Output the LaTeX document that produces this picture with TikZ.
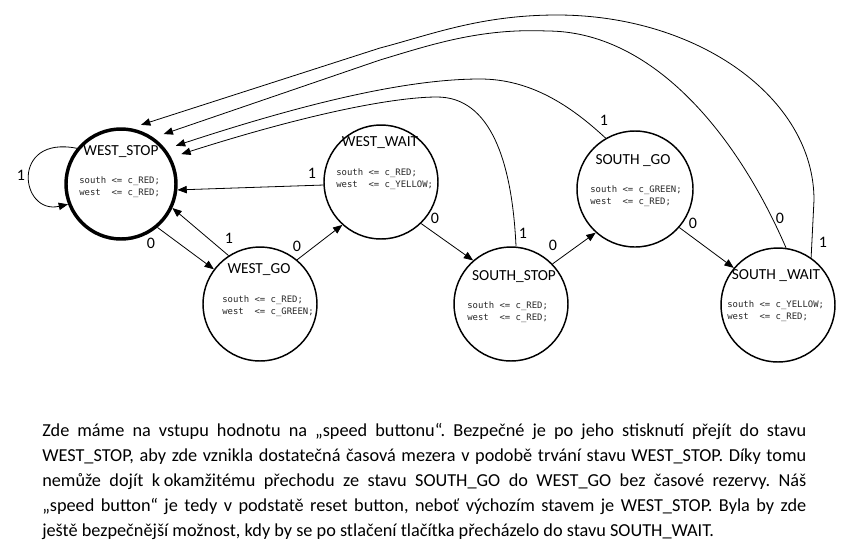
\documentclass[tikz,border=0pt]{standalone}
\usepackage{fontspec}
\setmainfont{Carlito}
\newfontfamily\codefont{DejaVu Sans Mono}
\usetikzlibrary{arrows.meta}
\begin{document}
\begin{tikzpicture}[x=0.75pt,y=-0.75pt,
  state/.style={circle,draw,line width=1.1pt,inner sep=0pt},
  stname/.style={font=\fontsize{11.5}{13}\selectfont,inner sep=0pt},
  code/.style={font=\codefont\fontsize{6.7}{9}\selectfont,align=left,anchor=west,inner sep=0pt,text=black!85},
  lbl/.style={font=\fontsize{12}{14}\selectfont,inner sep=0pt},
  conn/.style={line width=0.6pt,-{Triangle[length=7pt,width=5.5pt]}},
  longconn/.style={conn,shorten >=8pt}]
\useasboundingbox (0,0) rectangle (847,551);

% states
\node[state,line width=2.6pt,minimum size=82.5pt] (ws) at (121,184) {};
\node[state,minimum size=85.5pt] (wg) at (260,304) {};
\node[state,minimum size=85.5pt] (ww) at (381,182) {};
\node[state,minimum size=85.5pt] (ss) at (511,304) {};
\node[state,minimum size=87pt]   (sg) at (635,189) {};
\node[state,minimum size=85.5pt] (sw) at (778,305) {};

% state names
\node[stname] (wsn) at (121,152) {WEST\_STOP};
\node[stname] (wgn) at (259,270) {WEST\_GO};
\node[stname] (wwn) at (380,143) {WEST\_WAIT};
\node[stname] (ssn) at (514,277) {SOUTH\_STOP};
\node[stname] (sgn) at (633,161) {SOUTH \_GO};
\node[stname] (swn) at (776,276) {SOUTH \_WAIT};

% code
\node[code] (wsc) at (79,187)  {south <= c\_RED;\\west\ \ <= c\_RED;};
\node[code] (wgc) at (222,306) {south <= c\_RED;\\west\ \ <= c\_GREEN;};
\node[code] (wwc) at (336,179) {south <= c\_RED;\\west\ \ <= c\_YELLOW;};
\node[code] (ssc) at (467,312) {south <= c\_RED;\\west\ \ <= c\_RED;};
\node[code] (sgc) at (590,196) {south <= c\_GREEN;\\west\ \ <= c\_RED;};
\node[code] (swc) at (727,311) {south <= c\_YELLOW;\\west\ \ <= c\_RED;};

% short transitions
\draw[conn] (ws.141) .. controls (10,135) and (20,215) .. (ws.201);
\draw[conn] (ws.-50) -- (wg.143);
\draw[conn] (wg.123) -- (ws.-25);
\draw[conn] (wg.50) -- (ww.228);
\draw[conn] (ww.183) -- (ws.-6);
\draw[conn] (ww.-46) -- (ss.131);
\draw[conn] (ss.44) -- (sg.228);
\draw[conn] (sg.-41) -- (sw.140);

% long transitions back to WEST_STOP
\draw[longconn] (ss.85) .. controls (512,160) and (490,97) .. (437,97)
  .. controls (400,97) and (320,110) .. (ws.28);
\draw[longconn] (sg.120) .. controls (570,105) and (530,79) .. (480,79)
  .. controls (420,79) and (330,95) .. (ws.38);
\draw[longconn] (sw.82) .. controls (735,130) and (650,31) .. (547,31)
  .. controls (480,28) and (430,45) .. (380,60) -- (ws.55);
\draw[longconn] (sw.55) -- (814,200) .. controls (814,98) and (698,15) .. (557,15)
  .. controls (480,15) and (430,35) .. (380,48) -- (ws.80);

% labels
\node[lbl] (l1)  at (21,175)  {1};
\node[lbl] (l2)  at (151,243) {0};
\node[lbl] (l3)  at (229,238) {1};
\node[lbl] (l4)  at (297,246) {0};
\node[lbl] (l5)  at (312,173) {1};
\node[lbl] (l6)  at (435,218) {0};
\node[lbl] (l7)  at (553,245) {0};
\node[lbl] (l8)  at (693,223) {0};
\node[lbl] (l9)  at (523,233) {1};
\node[lbl] (l10) at (604,120) {1};
\node[lbl] (l11) at (780,218) {0};
\node[lbl] (l12) at (823,242) {1};

% text
\node[anchor=north west,text width=573pt,align=justify,inner sep=0pt,
  font=\fontsize{13.7}{18.75}\selectfont] (txt) at (42,423)
{\frenchspacing\hyphenpenalty=10000\exhyphenpenalty=10000
Zde máme na vstupu hodnotu na „speed buttonu“. Bezpečné je po jeho stisknutí přejít do stavu\linebreak
WEST\_STOP, aby zde vznikla dostatečná časová mezera v~podobě trvání stavu WEST\_STOP. Díky tomu\linebreak
nemůže dojít k\nobreak\hspace{0.2em}okamžitému přechodu ze stavu SOUTH\_GO do WEST\_GO bez časové rezervy. Náš\linebreak
„speed button“ je tedy v~podstatě reset button, neboť výchozím stavem je WEST\_STOP. Byla by zde\linebreak
ještě bezpečnější možnost, kdy by se po stlačení tlačítka přecházelo do stavu SOUTH\_WAIT.};
\end{tikzpicture}
\end{document}
